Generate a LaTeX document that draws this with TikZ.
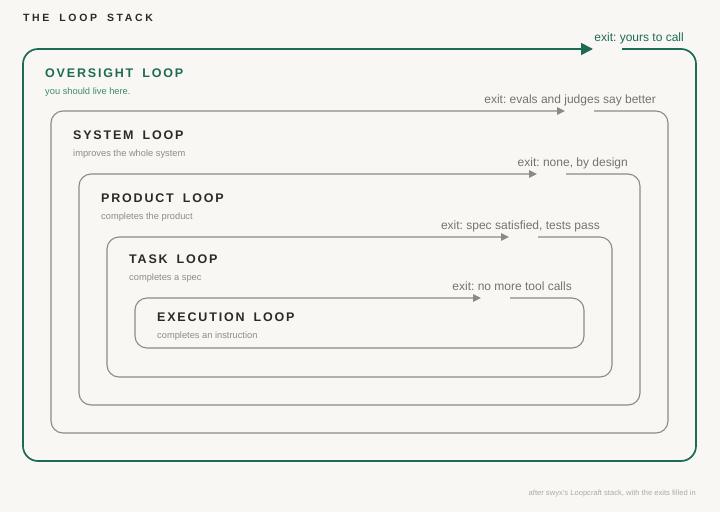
\documentclass[tikz,border=0pt]{standalone}
\usepackage{fontspec}
\setmainfont{Liberation Sans}
\newfontfamily\headfont[LetterSpace=14.5, WordSpace=1.7]{Liberation Sans}
\newfontfamily\stackfont[LetterSpace=25, WordSpace=1.8]{Liberation Sans}
\usetikzlibrary{positioning, arrows.meta}
\definecolor{paper}{HTML}{F8F7F3}
\definecolor{loopgreen}{HTML}{1E6B55}
\definecolor{subgreen}{HTML}{3D8C70}
\definecolor{loopgray}{HTML}{8C8A83}
\definecolor{inkdark}{HTML}{2A2A28}
\definecolor{subgray}{HTML}{8E8C86}
\definecolor{exitgray}{HTML}{75736C}
\definecolor{notegray}{HTML}{ADABA5}
\frenchspacing

\begin{document}
\begin{tikzpicture}[x=1pt, y=-1pt, line join=round,
  every node/.style={inner sep=0},
  green line/.style={draw=loopgreen, line width=1.7pt, rounded corners=15pt,
    -{Triangle[length=12pt, width=12pt]}},
  gray line/.style={draw=loopgray, line width=1.1pt, rounded corners=12pt,
    -{Triangle[length=8pt, width=7.5pt]}},
  green title/.style={loopgreen, font=\headfont\bfseries\fontsize{12.5}{15}\selectfont},
  gray title/.style={inkdark, font=\headfont\bfseries\fontsize{12.5}{15}\selectfont},
  green sub/.style={subgreen, font=\fontsize{9.3}{11}\selectfont},
  gray sub/.style={subgray, font=\fontsize{9.3}{11}\selectfont},
  green exit/.style={loopgreen, font=\fontsize{12}{14}\selectfont},
  gray exit/.style={exitgray, font=\fontsize{12}{14}\selectfont}]
  \def\loopbox#1#2#3#4#5#6#7#8{
    \coordinate (#2-nw) at #3;
    \coordinate (#2-se) at #4;
    \draw[#1 line] ([xshift=-74pt] #2-se |- #2-nw) -- (#2-se |- #2-nw) -- (#2-se)
    -- (#2-nw |- #2-se) -- (#2-nw) -- ([xshift=-103pt] #2-se |- #2-nw);
    \node[#1 title, anchor=base west] (#2-title)
    at ([xshift=22pt, yshift=-#5pt] #2-nw) {#6};
    \node[#1 sub, anchor=base west] (#2-sub)
    at ([yshift=-17pt] #2-title.base west) {#7};
    \node[#1 exit, anchor=base east] (#2-exit)
    at ([xshift=-12pt, yshift=7.5pt] #2-se |- #2-nw) {#8};
  }
  \useasboundingbox (0,0) rectangle (720,512);
  \fill[paper] (0,0) rectangle (720,512);
  %\draw[help lines] (0,0) grid[step=20] (720,512);

  \node[inkdark, anchor=base west, font=\stackfont\bfseries\fontsize{10.5}{12}\selectfont]
  (stack) at (23,21.5) {THE LOOP STACK};

  \loopbox{green}{oversight}{(23,49)}{(696,461)}{28}
  {OVERSIGHT LOOP}{you should live here.}{exit: yours to call}

  \loopbox{gray}{system}{(51,111)}{(668,433)}{28}
  {SYSTEM LOOP}{improves the whole system}{exit: evals and judges say better}

  \loopbox{gray}{product}{(79,174)}{(640,405)}{28}
  {PRODUCT LOOP}{completes the product}{exit: none, by design}

  \loopbox{gray}{task}{(107,237)}{(612,377)}{26}
  {TASK LOOP}{completes a spec}{exit: spec satisfied, tests pass}

  \loopbox{gray}{execution}{(135,298)}{(584,348)}{23}
  {EXECUTION LOOP}{completes an instruction}{exit: no more tool calls}

  \node[notegray, anchor=base east, font=\fontsize{7.6}{9}\selectfont]
  (note) at (696,495.5) {after swyx's Loopcraft stack, with the exits filled in};
\end{tikzpicture}
\end{document}
